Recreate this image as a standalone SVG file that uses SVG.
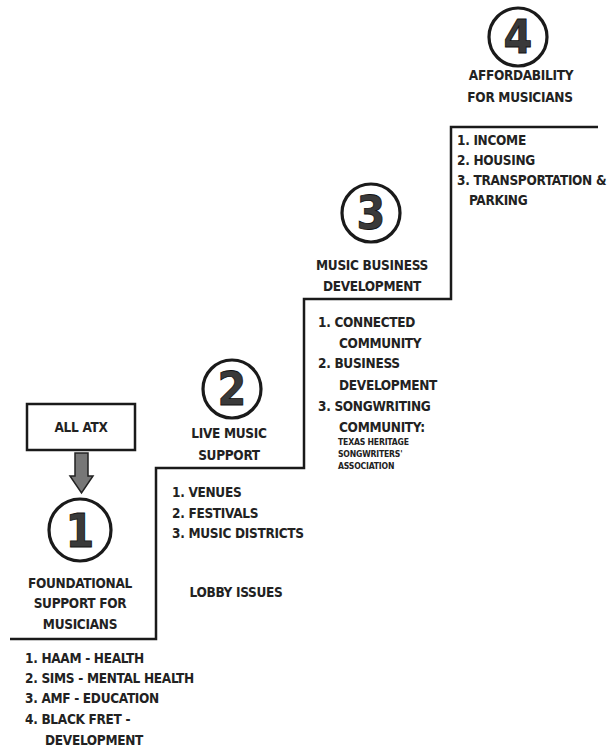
<svg xmlns="http://www.w3.org/2000/svg" width="613" height="749" viewBox="0 0 613 749">
<style>
.t{font-family:"DejaVu Sans Condensed","DejaVu Sans",sans-serif;font-weight:bold;font-size:13.5px;letter-spacing:-0.3px;fill:#222}
.c{text-anchor:middle}
.s{font-size:8.6px;letter-spacing:-0.2px}
.ring{fill:none;stroke:#1a1a1a;stroke-width:3.2}
.num{font-family:"DejaVu Sans Condensed","DejaVu Sans",sans-serif;font-weight:bold;font-size:46px;fill:#3a3a3a;stroke:#111;stroke-width:0.8;text-anchor:middle}
.stair{fill:none;stroke:#1a1a1a;stroke-width:2.5}
</style>
<rect width="613" height="749" fill="#fff"/>
<g id="staircase">
<path class="stair" d="M10,639 H156 V468 H304 V299 H451 V127 H598"/>
</g>
<g id="connectors">
<polygon points="75,453 88,453 88,476 93,476 81.5,493 70,476 75,476" fill="#777" stroke="#222" stroke-width="1.5"/>
</g>
<g id="allatx">
<rect x="27" y="404" width="108" height="46" fill="#fff" stroke="#1a1a1a" stroke-width="2.5"/>
<text class="t c" x="81" y="432">ALL ATX</text>
</g>
<g id="step1">
<circle class="ring" cx="80" cy="530" r="31"/>
<text class="num" x="80" y="547">1</text>
<text class="t c" x="80" y="588">FOUNDATIONAL</text>
<text class="t c" x="80" y="608">SUPPORT FOR</text>
<text class="t c" x="80" y="629">MUSICIANS</text>
<text class="t" x="25" y="663">1. HAAM - HEALTH</text>
<text class="t" x="25" y="683">2. SIMS - MENTAL HEALTH</text>
<text class="t" x="25" y="703">3. AMF - EDUCATION</text>
<text class="t" x="25" y="724">4. BLACK FRET -</text>
<text class="t" x="45" y="745">DEVELOPMENT</text>
</g>
<g id="step2">
<circle class="ring" cx="232" cy="389" r="29"/>
<text class="num" x="232" y="405">2</text>
<text class="t c" x="229" y="438">LIVE MUSIC</text>
<text class="t c" x="229" y="460">SUPPORT</text>
<text class="t" x="172" y="497">1. VENUES</text>
<text class="t" x="172" y="518">2. FESTIVALS</text>
<text class="t" x="172" y="538">3. MUSIC DISTRICTS</text>
<text class="t c" x="236" y="597">LOBBY ISSUES</text>
</g>
<g id="step3">
<circle class="ring" cx="371" cy="213" r="29"/>
<text class="num" x="371" y="229">3</text>
<text class="t c" x="372" y="270">MUSIC BUSINESS</text>
<text class="t c" x="372" y="291">DEVELOPMENT</text>
<text class="t" x="318" y="327">1. CONNECTED</text>
<text class="t" x="339" y="348">COMMUNITY</text>
<text class="t" x="318" y="368">2. BUSINESS</text>
<text class="t" x="339" y="390">DEVELOPMENT</text>
<text class="t" x="318" y="411">3. SONGWRITING</text>
<text class="t" x="339" y="432">COMMUNITY:</text>
<text class="t s" x="338" y="445">TEXAS HERITAGE</text>
<text class="t s" x="338" y="457">SONGWRITERS'</text>
<text class="t s" x="338" y="469">ASSOCIATION</text>
</g>
<g id="step4">
<circle class="ring" cx="518" cy="37" r="29"/>
<text class="num" x="518" y="53">4</text>
<text class="t c" x="521" y="80">AFFORDABILITY</text>
<text class="t c" x="520" y="102">FOR MUSICIANS</text>
<text class="t" x="457" y="145">1. INCOME</text>
<text class="t" x="457" y="165">2. HOUSING</text>
<text class="t" x="457" y="185">3. TRANSPORTATION &amp;</text>
<text class="t" x="469" y="205">PARKING</text>
</g>
</svg>
